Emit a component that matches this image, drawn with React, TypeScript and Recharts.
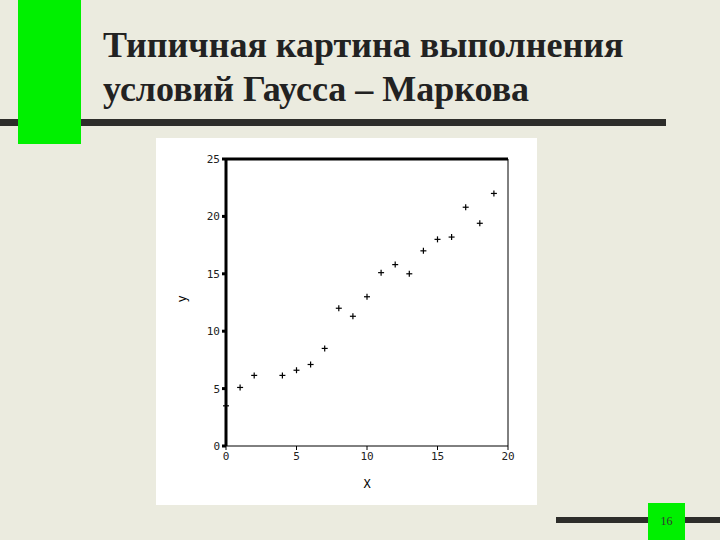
import React from 'react';
import {
  ScatterChart,
  Scatter,
  XAxis,
  YAxis,
  ReferenceLine,
} from 'recharts';

const X_VALUES = [0, 1, 2, 4, 5, 6, 7, 8, 9, 10, 11, 12, 13, 14, 15, 16, 17, 18, 19];
const Y_VALUES = [3.5, 5.1, 6.15, 6.15, 6.6, 7.1, 8.5, 12.0, 11.3, 13.0, 15.1, 15.8, 15.0, 17.0, 18.0, 18.2, 20.8, 19.4, 22.0];
const X_TICKS = [0, 5, 10, 15, 20];
const Y_TICKS = [0, 5, 10, 15, 20, 25];

const TITLE_LINES = ['Типичная картина выполнения', 'условий Гаусса – Маркова'];
const PAGE_NUMBER = '16';

const points = X_VALUES.map((x, i) => ({ x, y: Y_VALUES[i] }));

const BG = '#ebebdf';
const GREEN = '#00f000';
const DARK = '#2d2d2a';
const TICK_STYLE = { fontSize: 11, fill: '#222', fontFamily: 'DejaVu Sans Mono' };

// tiny "+" marker, like the old stat-package plot
const PlusMark = (props: any) => {
  const { cx, cy } = props;
  if (cx == null || cy == null) return null;
  return (
    <g stroke="#000" strokeWidth={1.2}>
      <line x1={cx - 3} y1={cy} x2={cx + 3} y2={cy} />
      <line x1={cx} y1={cy - 3} x2={cx} y2={cy + 3} />
    </g>
  );
};

export default function App() {
  return (
    <div
      style={{
        position: 'absolute',
        left: 0,
        top: 0,
        width: 720,
        height: 540,
        background: BG,
        overflow: 'hidden',
      }}
    >
      {/* dark rule under the title, green bar on top of it */}
      <div style={{ position: 'absolute', left: 0, top: 119, width: 666, height: 7, background: DARK }} />
      <div style={{ position: 'absolute', left: 18, top: 0, width: 63, height: 144, background: GREEN }} />

      <div
        style={{
          position: 'absolute',
          left: 103,
          top: 23,
          fontFamily: '"Liberation Serif", serif',
          fontWeight: 'bold',
          fontSize: 36,
          lineHeight: '44px',
          color: '#222',
          whiteSpace: 'nowrap',
        }}
      >
        {TITLE_LINES.map((line) => (
          <div key={line}>{line}</div>
        ))}
      </div>

      {/* white chart panel */}
      <div style={{ position: 'absolute', left: 156, top: 138, width: 381, height: 367, background: '#fff' }}>
        <ScatterChart
          width={381}
          height={367}
          margin={{ top: 21, right: 29, left: 0, bottom: 19 }}
        >
          <XAxis
            type="number"
            dataKey="x"
            domain={[0, 20]}
            ticks={X_TICKS}
            tick={TICK_STYLE}
            tickSize={4}
            stroke="#000"
            height={40}
            label={{ value: 'X', position: 'insideBottom', offset: -2, fill: '#000', fontSize: 12, fontFamily: 'DejaVu Sans Mono' }}
          />
          <YAxis
            type="number"
            dataKey="y"
            domain={[0, 25]}
            ticks={Y_TICKS}
            tick={TICK_STYLE}
            tickSize={4}
            width={70}
            stroke="#000"
            strokeWidth={3}
            label={{ value: 'y', angle: -90, position: 'insideLeft', offset: 26, fill: '#000', fontSize: 12, fontFamily: 'DejaVu Sans Mono' }}
          />
          <ReferenceLine y={25} stroke="#000" strokeWidth={3} />
          <ReferenceLine x={20} stroke="#000" strokeWidth={1} />
          <Scatter data={points} shape={<PlusMark />} isAnimationActive={false} />
        </ScatterChart>
      </div>

      {/* footer rule and page number */}
      <div style={{ position: 'absolute', left: 556, top: 517, width: 164, height: 6, background: DARK }} />
      <div
        style={{
          position: 'absolute',
          left: 648,
          top: 503,
          width: 37,
          height: 37,
          background: GREEN,
          display: 'flex',
          alignItems: 'center',
          justifyContent: 'center',
          fontFamily: '"Liberation Serif", serif',
          fontSize: 12,
          color: '#333',
        }}
      >
        {PAGE_NUMBER}
      </div>
    </div>
  );
}
